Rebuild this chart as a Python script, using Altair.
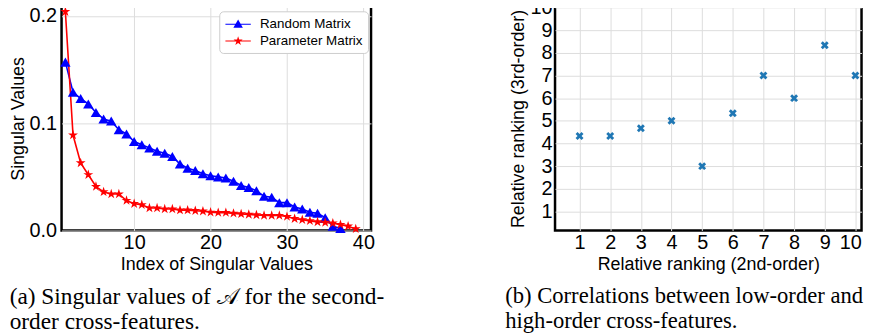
import altair as alt
import pandas as pd

# ---------------- data ----------------
series_names = ["Random Matrix", "Parameter Matrix"]
series_colors = ["#0000ff", "#ff0000"]

idx_random = list(range(1, 38))
sv_random = [0.157, 0.129, 0.123, 0.118, 0.110, 0.104, 0.102, 0.094, 0.090, 0.083,
             0.080, 0.077, 0.074, 0.072, 0.069, 0.062, 0.058, 0.056, 0.053, 0.051,
             0.050, 0.049, 0.046, 0.042, 0.040, 0.037, 0.032, 0.031, 0.026, 0.026,
             0.022, 0.020, 0.017, 0.016, 0.012, 0.004, 0.002]
idx_param = list(range(1, 40))
sv_param = [0.204, 0.089, 0.063, 0.052, 0.041, 0.036, 0.034, 0.034, 0.028, 0.025,
            0.024, 0.021, 0.021, 0.020, 0.020, 0.019, 0.019, 0.0185, 0.018, 0.017,
            0.0167, 0.0167, 0.016, 0.0155, 0.015, 0.0145, 0.014, 0.014, 0.014, 0.013,
            0.011, 0.010, 0.009, 0.008, 0.0075, 0.0068, 0.0055, 0.004, 0.0015]

rank_2nd = [1, 2, 3, 4, 5, 6, 7, 8, 9, 10]
rank_3rd = [4.33, 4.33, 4.67, 5.0, 3.0, 5.33, 7.0, 6.0, 8.33, 7.0]

left_x_ticks = [10, 20, 30, 40]
left_y_ticks = [0.0, 0.1, 0.2]
right_ticks = [1, 2, 3, 4, 5, 6, 7, 8, 9, 10]

caption_a = ["(a) Singular values of \U0001D49C for the second-", "order cross-features."]
caption_b = ["(b) Correlations between low-order and", "high-order cross-features."]

# ---------------- marker paths ----------------
STAR = ("M0,-1L0.225,-0.309L0.951,-0.309L0.363,0.118L0.588,0.809L0,0.382"
        "L-0.588,0.809L-0.363,0.118L-0.951,-0.309L-0.225,-0.309Z")
XMARK = ("M-1,-0.5L-0.5,-1L0,-0.5L0.5,-1L1,-0.5L0.5,0L1,0.5L0.5,1L0,0.5"
         "L-0.5,1L-1,0.5L-0.5,0Z")


def scaled_star(s):
    pts = [(0, -1), (0.225, -0.309), (0.951, -0.309), (0.363, 0.118), (0.588, 0.809),
           (0, 0.382), (-0.588, 0.809), (-0.363, 0.118), (-0.951, -0.309), (-0.225, -0.309)]
    return "M" + "L".join(f"{x*s:.3f},{y*s:.3f}" for x, y in pts) + "Z"


LINE_BAR = "M-1.6,-0.07L1.6,-0.07L1.6,0.07L-1.6,0.07Z"
LEG_TRI = LINE_BAR + " M0,-0.6L0.6,0.45L-0.6,0.45Z"
LEG_STAR = LINE_BAR + " " + scaled_star(0.6)

FONT = "Liberation Sans"
SERIF = "Liberation Serif"

# ---------------- left panel ----------------
df_left = pd.DataFrame({
    "index": idx_random + idx_param,
    "value": sv_random + sv_param,
    "series": [series_names[0]] * len(idx_random) + [series_names[1]] * len(idx_param),
})

x_left = alt.X("index:Q",
               scale=alt.Scale(domain=[0.5, 41], nice=False, zero=False),
               axis=alt.Axis(values=left_x_ticks, title="Index of Singular Values",
                             labelPadding=2, titlePadding=3))
y_left = alt.Y("value:Q",
               scale=alt.Scale(domain=[0, 0.209], nice=False),
               axis=alt.Axis(values=left_y_ticks, format=".1f", title="Singular Values",
                             labelPadding=5, titlePadding=1.5))
color_left = alt.Color("series:N", scale=alt.Scale(domain=series_names, range=series_colors),
                       legend=None)

lines = alt.Chart(df_left).mark_line(strokeWidth=1.6).encode(x_left, y_left, color_left)
points = alt.Chart(df_left).mark_point(filled=True, opacity=1, size=110).encode(
    x_left, y_left, color_left,
    shape=alt.Shape("series:N", scale=alt.Scale(domain=series_names, range=["triangle-up", STAR]),
                    legend=None),
)

legend_df = pd.DataFrame({"legend_series": series_names})
legend_props = dict(
    title=None, orient="none", legendX=159, legendY=5,
    fillColor="white", strokeColor="#cccccc", cornerRadius=4, padding=5,
    labelFont=FONT, labelFontSize=13.5, labelColor="black", labelOffset=14,
    symbolSize=256, symbolOffset=6, symbolOpacity=1, symbolStrokeWidth=0,
    rowPadding=2,
)
legend_layer = alt.Chart(legend_df).mark_point(filled=True, opacity=0).encode(
    x=alt.value(0), y=alt.value(0),
    color=alt.Color("legend_series:N", scale=alt.Scale(domain=series_names, range=series_colors),
                    legend=alt.Legend(**legend_props)),
    shape=alt.Shape("legend_series:N", scale=alt.Scale(domain=series_names, range=[LEG_TRI, LEG_STAR]),
                    legend=alt.Legend(**legend_props)),
)

left = alt.layer(lines, points, legend_layer).resolve_scale(
    color="independent", shape="independent"
).properties(
    width=312, height=226,
    title=alt.TitleParams(caption_a, orient="bottom", anchor="start", font=SERIF, fontSize=23.5,
                          fontWeight="normal", lineHeight=25, offset=12, color="black"),
)

# ---------------- right panel ----------------
df_right = pd.DataFrame({"r2": rank_2nd, "r3": rank_3rd})
right = alt.Chart(df_right).mark_point(filled=True, opacity=1, shape=XMARK, size=64,
                                       color="#1f77b4").encode(
    x=alt.X("r2:Q", scale=alt.Scale(domain=[0.2, 10.2], nice=False, zero=False),
            axis=alt.Axis(values=right_ticks, title="Relative ranking (2nd-order)",
                          labelPadding=2, titlePadding=3, labelFlush=8, labelFlushOffset=6)),
    y=alt.Y("r3:Q", scale=alt.Scale(domain=[0.16, 10.05], nice=False, zero=False),
            axis=alt.Axis(values=right_ticks, title="Relative ranking (3rd-order)",
                          labelPadding=3, titlePadding=3)),
).properties(
    width=309, height=226,
    title=alt.TitleParams(caption_b, orient="bottom", anchor="start", font=SERIF, fontSize=22.8,
                          fontWeight="normal", lineHeight=25, offset=12, dx=-4, color="black"),
)

chart = alt.hconcat(left, right, spacing=117.5).properties(
    padding={"top": -14, "left": 0, "right": 0, "bottom": 0}
).configure_view(
    stroke="black", strokeWidth=2.5
).configure_axis(
    labelFont=FONT, labelFontSize=20, labelColor="black",
    titleFont=FONT, titleFontSize=18, titleFontWeight="normal", titleColor="black",
    ticks=False, domain=False, gridColor="#dddddd", gridWidth=1,
)

chart.save("out.html", embed_options={"renderer": "svg", "actions": False})
